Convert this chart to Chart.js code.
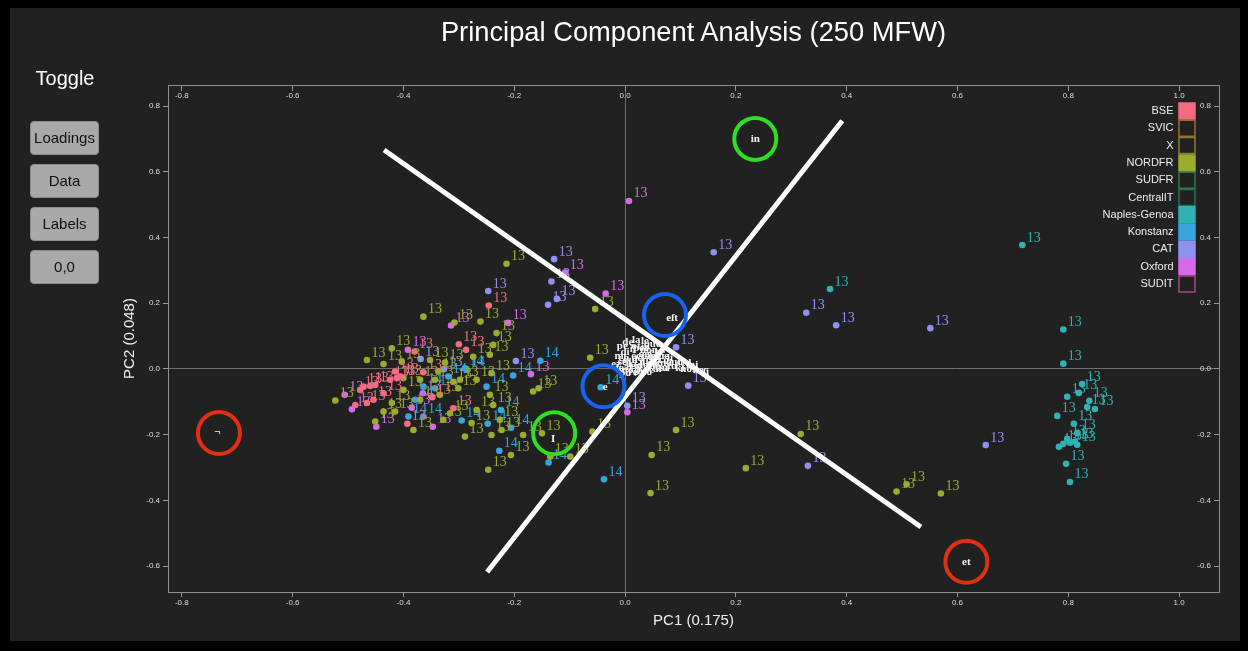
<!DOCTYPE html>
<html>
<head>
<meta charset="utf-8">
<script src="https://cdn.jsdelivr.net/npm/chart.js@4.4.0/dist/chart.umd.min.js"></script>
<style>
	html, body { margin: 0; padding: 0; background: #000; width: 1248px; height: 651px; overflow: hidden; }
	#frame { position: absolute; left: 10px; top: 8px; width: 1230px; height: 633px; background: #212121; }
	#chart { position: absolute; left: 0; top: 0; width: 1248px; height: 651px; }
	#title { position: absolute; left: 168px; width: 1051px; top: 16px; text-align: center; color: #fff;
		font: 27.3px "Liberation Sans", Arial, sans-serif; line-height: 32px; }
	#toggle { position: absolute; left: 20px; width: 90px; top: 65px; text-align: center; color: #fff;
		font: 20px "Liberation Sans", Arial, sans-serif; line-height: 26px; }
	.btn { position: absolute; left: 30px; width: 69px; height: 34px; box-sizing: border-box;
		background: #a9a9a9; border: 1px solid #8c8c8c; border-radius: 4px; color: #111;
		font: 15px "Liberation Sans", Arial, sans-serif; line-height: 32px; text-align: center; }
</style>
</head>
<body>
<div id="frame"></div>
<canvas id="chart" width="1248" height="651"></canvas>
<div id="title">Principal Component Analysis (250 MFW)</div>
<div id="toggle">Toggle</div>
<div class="btn" style="top:121px">Loadings</div>
<div class="btn" style="top:164px">Data</div>
<div class="btn" style="top:207px">Labels</div>
<div class="btn" style="top:250px">0,0</div>
<script>
const seriesNames = ['BSE', 'SVIC', 'X', 'NORDFR', 'SUDFR', 'CentralIT', 'Naples-Genoa', 'Konstanz', 'CAT', 'Oxford', 'SUDIT'];
const seriesColors = ['#f26b80', '#a0692c', '#8c7a2e', '#9aab2e', '#2f7a47', '#2d6e60', '#30b2b4', '#36a6dc', '#9090f0', '#d86ae8', '#a8438a'];
const seriesTags = ['13', '13', '13', '13', '13', '13', '13', '14', '13', '13', '13'];

const xTicks = [-0.8, -0.6, -0.4, -0.2, 0.0, 0.2, 0.4, 0.6, 0.8, 1.0];
const yTicks = [-0.6, -0.4, -0.2, 0.0, 0.2, 0.4, 0.6, 0.8];
const xMin = -0.825, xMax = 1.072;
const yMin = -0.679, yMax = 0.864;

const bsePoints = [[-0.246, 0.193], [-0.300, 0.075], [-0.287, 0.058], [-0.380, 0.053], [-0.364, -0.010], [-0.348, -0.086],
	[-0.393, -0.167], [-0.310, -0.120], [-0.472, -0.054], [-0.460, -0.052], [-0.451, -0.049], [-0.424, -0.033],
	[-0.412, -0.028], [-0.406, -0.023], [-0.478, -0.064], [-0.487, -0.110], [-0.466, -0.104], [-0.454, -0.094],
	[-0.436, -0.074], [-0.415, -0.008]];
const svicPoints = [];
const xPoints = [];
const nordfrPoints = [[-0.364, 0.159], [-0.308, 0.141], [-0.261, 0.144], [-0.232, 0.109], [-0.238, 0.073], [-0.466, 0.027],
	[-0.436, 0.015], [-0.325, 0.019], [-0.274, 0.037], [-0.244, 0.043], [-0.063, 0.034], [-0.054, 0.182], [-0.166, -0.069],
	[-0.156, -0.059], [-0.523, -0.096], [-0.451, -0.160], [-0.382, -0.186], [-0.310, -0.039], [-0.301, -0.059],
	[-0.334, -0.079], [-0.244, -0.079], [-0.238, -0.110], [-0.268, -0.125], [-0.316, -0.135], [-0.289, -0.206],
	[-0.241, -0.201], [-0.223, -0.186], [-0.247, -0.307], [-0.206, -0.262], [-0.184, -0.201], [-0.150, -0.196],
	[-0.135, -0.267], [-0.099, -0.267], [-0.370, -0.033], [-0.400, -0.064], [-0.370, -0.094], [-0.059, -0.191],
	[0.048, -0.262], [0.092, -0.186], [0.046, -0.378], [0.317, -0.198], [0.218, -0.302], [0.490, -0.373],
	[0.508, -0.351], [0.570, -0.379], [-0.214, 0.320], [-0.421, 0.063], [-0.403, 0.022], [-0.352, 0.027],
	[-0.337, -0.008], [-0.298, -0.033], [-0.268, -0.033], [-0.421, -0.104], [-0.415, -0.130], [-0.436, -0.130],
	[-0.328, -0.155], [-0.277, -0.165], [-0.226, -0.155], [-0.400, -0.028], [-0.343, -0.033], [-0.241, -0.013]];
const sudfrPoints = [];
const centralitPoints = [];
const naplesPoints = [[0.717, 0.377], [0.370, 0.243], [0.791, 0.120], [0.791, 0.016], [0.825, -0.046], [0.819, -0.073],
	[0.798, -0.085], [0.838, -0.097], [0.834, -0.116], [0.848, -0.122], [0.780, -0.143], [0.810, -0.167], [0.816, -0.195],
	[0.783, -0.237], [0.791, -0.228], [0.803, -0.225], [0.812, -0.222], [0.816, -0.231], [0.798, -0.213],
	[0.796, -0.289], [0.803, -0.344]];
const konstanzPoints = [[-0.038, -0.336], [-0.138, -0.285], [-0.227, -0.249], [-0.248, -0.167], [-0.206, -0.179],
	[-0.224, -0.125], [-0.250, -0.054], [-0.295, -0.157], [-0.044, -0.056], [-0.153, 0.025], [-0.202, -0.020],
	[-0.286, -0.003], [-0.319, -0.023], [-0.364, -0.054], [-0.379, -0.094], [-0.391, -0.145], [-0.364, -0.145],
	[-0.289, 0.002], [-0.343, -0.059]];
const catPoints = [[0.160, 0.355], [0.327, 0.171], [0.381, 0.133], [0.551, 0.124], [0.092, 0.066], [0.330, -0.295],
	[0.651, -0.232], [0.114, -0.051], [0.004, -0.112], [-0.128, 0.334], [-0.133, 0.266], [-0.123, 0.213], [-0.139, 0.195],
	[-0.247, 0.237], [-0.197, 0.024], [-0.369, 0.030], [-0.327, -0.001]];
const oxfordPoints = [[0.007, 0.511], [-0.108, 0.293], [-0.035, 0.229], [0.004, -0.132], [-0.211, 0.140], [-0.314, 0.132],
	[-0.392, 0.058], [-0.170, -0.016], [-0.506, -0.079], [-0.493, -0.123], [-0.385, -0.118], [-0.449, -0.176],
	[-0.347, -0.176], [-0.365, -0.074]];
const suditPoints = [];
const seriesPoints = [bsePoints, svicPoints, xPoints, nordfrPoints, sudfrPoints, centralitPoints,
	naplesPoints, konstanzPoints, catPoints, oxfordPoints, suditPoints];

// loadings (word labels), first six are the circled ones
const loadingWords = ['in', 'eſt', 'e', 'I', 'et', '¬',
	'm', 'de', 'la', 'le', 'que', 'di', 'il', 'per', 'non', 'che', 'se', 'qui', 'ad', 'cum', 'ne', 'me', 'li', 'lo',
	'al', 'en', 'del', 'da', 'un', 'si', 'ut', 'sed', 'mi', 'po', 're', 'tu', 'ce', 'ai', 'sa', 'ki', 'nos', 'ke', 'ſi',
	'ch', 'ò', 'qe', 'ki', 'il', 'ſa', 'mo', 'ꝑ', 'nõ', 'uo', 'au', 'fu', 'ez', 'ſu', 'cō', 'ot', 'pe', 'ie'];
const loadingX = [0.235, 0.085, -0.036, -0.130, 0.616, -0.736,
	-0.011, 0.005, 0.020, 0.036, 0.049, 0.000, 0.014, 0.029, 0.043, 0.058, -0.005, 0.009, 0.023, 0.038, 0.052, 0.067,
	0.081, -0.009, 0.005, 0.020, 0.034, 0.049, 0.063, 0.078, 0.092, 0.106, 0.121, 0.000, 0.014, 0.029, 0.043, 0.058,
	0.072, 0.099, 0.114, 0.132, 0.146,
	-0.002, 0.016, 0.034, 0.013, 0.031, 0.045, 0.002, 0.023, 0.038, 0.054, 0.067, 0.085, -0.016, 0.056, 0.070,
	0.020, -0.005, 0.036];
const loadingY = [0.700, 0.155, -0.055, -0.213, -0.587, -0.192,
	0.040, 0.082, 0.088, 0.085, 0.076, 0.052, 0.061, 0.064, 0.058, 0.052, 0.021, 0.027, 0.033, 0.040, 0.037, 0.040,
	0.033, 0.003, 0.006, 0.009, 0.012, 0.015, 0.018, 0.018, 0.021, 0.018, 0.012, -0.012, -0.009, -0.006, -0.003, 0.000,
	0.003, 0.003, 0.000, -0.003, -0.009,
	0.033, 0.040, 0.046, 0.015, 0.021, 0.024, -0.003, -0.003, -0.009, 0.009, 0.003, 0.009, 0.015, 0.027, 0.027,
	0.070, 0.070, 0.067];

// hand drawn annotations
const line1 = [[-0.435, 0.666], [0.534, -0.481]];
const line2 = [[-0.249, -0.618], [0.392, 0.755]];
const circleCenters = [[-0.733, -0.195], [0.616, -0.587], [0.235, 0.700], [-0.128, -0.196], [0.072, 0.164], [-0.039, -0.053]];
const circleColors = ['#e0300f', '#e0300f', '#2ee021', '#2ee021', '#1565ee', '#1565ee'];

function toXY(list){
	return list.map(p => ({ x: p[0], y: p[1] }));
}

function fmt(v){
	return Number(v).toFixed(1);
}

const datasets = seriesNames.map((name, i) => ({
	label: name,
	kind: 'series',
	tag: seriesTags[i],
	data: toXY(seriesPoints[i]),
	backgroundColor: seriesColors[i],
	borderColor: seriesColors[i],
	pointRadius: 3.3,
	pointBorderWidth: 0,
	order: 4
}));

datasets.push({
	label: 'loadings',
	kind: 'loadings',
	words: loadingWords,
	data: loadingX.map((x, i) => ({ x, y: loadingY[i] })),
	pointRadius: 0,
	order: 3
});

[line1, line2].forEach((ln, i) => {
	datasets.push({
		label: 'line' + i,
		kind: 'line',
		data: toXY(ln),
		showLine: true,
		borderColor: '#ffffff',
		borderWidth: 5,
		pointRadius: 0,
		order: 2
	});
});

datasets.push({
	label: 'circles',
	kind: 'circle',
	data: toXY(circleCenters),
	pointRadius: 21,
	pointBorderWidth: 4,
	pointBorderColor: circleColors,
	pointBackgroundColor: 'rgba(0,0,0,0)',
	order: 1
});

const textPlugin = {
	id: 'pointText',
	afterDatasetDraw(chart, args){
		const ds = chart.data.datasets[args.index];
		const ctx = chart.ctx;
		if(ds.kind === 'series'){
			ctx.save();
			ctx.font = '14px "Liberation Serif", serif';
			ctx.fillStyle = ds.borderColor;
			ctx.textAlign = 'left';
			ctx.textBaseline = 'alphabetic';
			args.meta.data.forEach(pt => ctx.fillText(ds.tag, pt.x + 4.5, pt.y - 3.5));
			ctx.restore();
		}else if(ds.kind === 'loadings'){
			ctx.save();
			ctx.font = 'bold 11px "Liberation Serif", serif';
			ctx.fillStyle = '#f5f5f5';
			ctx.textAlign = 'center';
			ctx.textBaseline = 'middle';
			args.meta.data.forEach((pt, i) => ctx.fillText(ds.words[i], pt.x, pt.y));
			ctx.restore();
		}
	}
};

// put the legend inside the plot, at its upper right
const legendPlace = {
	id: 'legendPlace',
	afterLayout(chart){
		const lg = chart.legend;
		if(!lg) return;
		const pad = lg.options.labels.padding;
		lg.left = 1195 + pad - lg.width;
		lg.right = lg.left + lg.width;
		lg.top = 103 - pad;
		lg.bottom = lg.top + lg.height;
	}
};

const tickFont = { size: 8, family: '"Liberation Sans", Arial, sans-serif' };
const titleFont = { size: 15, family: '"Liberation Sans", Arial, sans-serif' };

new Chart(document.getElementById('chart').getContext('2d'), {
	type: 'scatter',
	data: { datasets },
	options: {
		responsive: false,
		animation: false,
		layout: { padding: { left: 118, right: 29, top: 85, bottom: 21 } },
		plugins: {
			tooltip: { enabled: false },
			legend: {
				position: 'chartArea',
				align: 'start',
				rtl: true,
				labels: {
					boxWidth: 16,
					boxHeight: 16,
					padding: 1.3,
					color: '#eeeeee',
					font: { size: 11, family: '"Liberation Sans", Arial, sans-serif' },
					filter: (item, data) => data.datasets[item.datasetIndex].kind === 'series',
					generateLabels: chart => chart.data.datasets.map((ds, i) => ({
						text: ds.label,
						fillStyle: ds.data.length ? ds.backgroundColor : 'rgba(0,0,0,0)',
						strokeStyle: ds.borderColor,
						lineWidth: 1.5,
						fontColor: '#eeeeee',
						hidden: !chart.isDatasetVisible(i),
						datasetIndex: i
					}))
				}
			}
		},
		scales: {
			x: {
				type: 'linear', position: 'bottom', min: xMin, max: xMax,
				afterBuildTicks: s => { s.ticks = xTicks.map(v => ({ value: v })); },
				afterFit: s => { s.height = 38; },
				ticks: { color: '#dddddd', font: tickFont, padding: 1, autoSkip: false, maxRotation: 0, callback: fmt },
				grid: { color: c => (c.tick && c.tick.value === 0 ? '#6e6e6e' : 'rgba(0,0,0,0)'), tickColor: '#999999', tickLength: 5 },
				border: { color: '#8e8e8e' },
				title: { display: true, text: 'PC1 (0.175)', color: '#eeeeee', font: titleFont, padding: { top: 0, bottom: 0 } }
			},
			x2: {
				type: 'linear', axis: 'x', position: { y: yMax }, min: xMin, max: xMax,
				afterBuildTicks: s => { s.ticks = xTicks.map(v => ({ value: v })); },
				ticks: { color: '#dddddd', font: tickFont, padding: 1, autoSkip: false, maxRotation: 0, callback: fmt },
				grid: { drawOnChartArea: false, tickColor: '#999999', tickLength: 5 },
				border: { color: '#8e8e8e' }
			},
			y: {
				type: 'linear', position: 'left', min: yMin, max: yMax,
				afterBuildTicks: s => { s.ticks = yTicks.map(v => ({ value: v })); },
				afterFit: s => { s.width = 50; },
				ticks: { color: '#dddddd', font: tickFont, padding: 3, autoSkip: false, callback: fmt },
				grid: { color: c => (c.tick && c.tick.value === 0 ? '#6e6e6e' : 'rgba(0,0,0,0)'), tickColor: '#999999', tickLength: 5 },
				border: { color: '#8e8e8e' },
				title: { display: true, text: 'PC2 (0.048)', color: '#eeeeee', font: titleFont, padding: { top: 3, bottom: 0 } }
			},
			y2: {
				type: 'linear', position: 'right', min: yMin, max: yMax,
				afterBuildTicks: s => { s.ticks = yTicks.map(v => ({ value: v })); },
				afterFit: s => { s.width = 0; },
				ticks: { color: '#dddddd', font: tickFont, mirror: true, padding: -8, autoSkip: false, callback: fmt },
				grid: { drawOnChartArea: false, tickColor: '#999999', tickLength: -5 },
				border: { color: '#8e8e8e' }
			}
		}
	},
	plugins: [textPlugin, legendPlace]
});
</script>
</body>
</html>
